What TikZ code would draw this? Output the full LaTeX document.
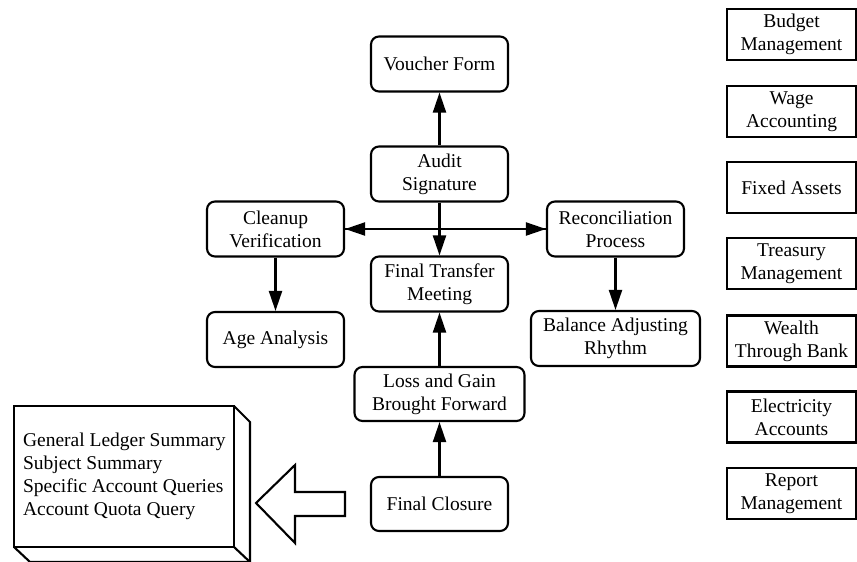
\documentclass[tikz,border=0pt]{standalone}
\usepackage{fontspec}
\setmainfont{Liberation Serif}
\usetikzlibrary{arrows.meta}
\begin{document}
\begin{tikzpicture}[x=1pt, y=-1pt, line width=2.1pt,
        stage/.style={draw, rounded corners=8pt, align=center, inner sep=0pt,
          minimum width=137pt, minimum height=55pt},
        module/.style={draw, align=center, inner sep=0pt,
          minimum width=129pt, minimum height=51pt},
        flow/.style={-{Triangle[length=20pt,width=13pt]}},
        font=\fontsize{19.5}{23.2}\selectfont]
        \useasboundingbox (0,0) rectangle (857,562);
        \node [stage] (voucher) at (439.5,64) {Voucher Form};
        \node [stage] (audit) at (439.5,174) {Audit\\Signature};
        \node [stage] (cleanup) at (275.5,229) {Cleanup\\Verification};
        \node [stage] (recon) at (615.5,229) {Reconciliation\\Process};
        \node [stage] (transfer) at (439.5,284) {Final Transfer\\Meeting};
        \node [stage] (age) at (275.5,339.5) {Age Analysis};
        \node [stage, minimum width=169pt] (balance) at (615.5,338.5) {Balance Adjusting\\Rhythm};
        \node [stage, minimum width=170pt, minimum height=54pt] (loss) at (439.5,394) {Loss and Gain\\Brought Forward};
        \node [stage, minimum height=54pt] (closure) at (439.5,504) {Final Closure};
        \draw [flow] (audit) -- (voucher);
        \draw [flow] (audit) -- (transfer);
        \draw [flow] (cleanup) -- (recon);
        \draw [flow] (recon) -- (cleanup);
        \draw [flow] (cleanup) -- (age);
        \draw [flow] (recon) -- (balance);
        \draw [flow] (closure) -- (loss);
        \draw [flow] (loss) -- (transfer);
        \node [module] (budget) at (791.5,34.5) {Budget\\Management};
        \node [module] (wage) at (791.5,111.5) {Wage\\Accounting};
        \node [module] (assets) at (791.5,187.5) {Fixed Assets};
        \node [module] (treasury) at (791.5,263.5) {Treasury\\Management};
        \node [module] (wealth) at (791.5,341) {Wealth\\Through Bank};
        \node [module] (electricity) at (791.5,417) {Electricity\\Accounts};
        \node [module] (report) at (791.5,493.5) {Report\\Management};
        \draw (14,406) rectangle (234,547);
        \draw (234,406) -- (250,422) -- (250,562) -- (30,562) -- (14,547);
        \draw (234,547) -- (250,562);
        \node [align=left, anchor=west, inner sep=0pt] (summary) at (22,476.5)
          {General Ledger Summary\\Subject Summary\\Specific Account Queries\\Account Quota Query};
        \draw [line join=miter] (256,503) -- (295,465) -- (295,492) -- (345,492)
          -- (345,516) -- (295,516) -- (295,543) -- cycle;
\end{tikzpicture}
\end{document}
